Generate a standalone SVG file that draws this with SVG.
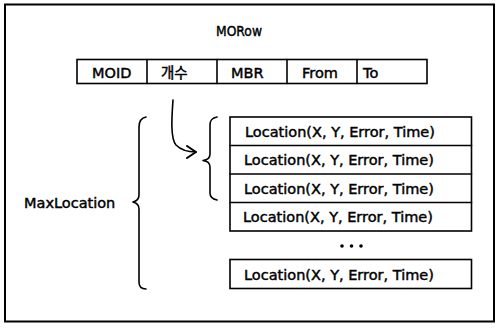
<svg xmlns="http://www.w3.org/2000/svg" width="496" height="332" viewBox="0 0 496 332">
<defs>
<style>
.t{font-family:"DejaVu Sans","Noto Sans CJK KR",sans-serif;font-size:14.5px;fill:#000;stroke:#000;stroke-width:0.45}
.box{fill:#fff;stroke:#000;stroke-width:1.6}
.ln{fill:none;stroke:#000;stroke-width:1.6;stroke-linecap:round;stroke-linejoin:round}
</style>
<marker id="arr" markerWidth="12" markerHeight="14" refX="10" refY="7" orient="auto" markerUnits="userSpaceOnUse">
<polyline points="1,1 10,7 1,13" fill="none" stroke="#000" stroke-width="2" stroke-linejoin="round" stroke-linecap="round"/>
</marker>
</defs>
<rect width="496" height="332" fill="#fff"/>
<rect id="frame" x="5" y="4.5" width="489" height="317" fill="none" stroke="#000" stroke-width="2"/>
<g id="title"><text class="t" x="216" y="36" textLength="46" lengthAdjust="spacingAndGlyphs">MORow</text></g>
<g id="morow">
<rect class="box" x="77" y="59.5" width="350" height="24"/>
<line class="ln" x1="147" y1="59.5" x2="147" y2="83.5"/>
<line class="ln" x1="217" y1="59.5" x2="217" y2="83.5"/>
<line class="ln" x1="287" y1="59.5" x2="287" y2="83.5"/>
<line class="ln" x1="357" y1="59.5" x2="357" y2="83.5"/>
<text class="t" x="92" y="78">MOID</text>
<text class="t" x="161" y="78">개수</text>
<text class="t" x="231" y="78">MBR</text>
<text class="t" x="302" y="78">From</text>
<text class="t" x="363" y="78">To</text>
</g>
<g id="locations">
<rect class="box" x="230" y="117" width="241.5" height="114"/>
<line class="ln" x1="230" y1="145.5" x2="471.5" y2="145.5"/>
<line class="ln" x1="230" y1="174" x2="471.5" y2="174"/>
<line class="ln" x1="230" y1="202.5" x2="471.5" y2="202.5"/>
<text class="t" x="245" y="136.5">Location(X, Y, Error, Time)</text>
<text class="t" x="244" y="165">Location(X, Y, Error, Time)</text>
<text class="t" x="244" y="193.5">Location(X, Y, Error, Time)</text>
<text class="t" x="243" y="222">Location(X, Y, Error, Time)</text>
<circle cx="342" cy="246" r="1.8"/>
<circle cx="351.5" cy="246" r="1.8"/>
<circle cx="361" cy="246" r="1.8"/>
<rect class="box" x="230" y="259.5" width="241.5" height="29"/>
<text class="t" x="244" y="279.5">Location(X, Y, Error, Time)</text>
</g>
<g id="maxlocation">
<text class="t" x="24" y="208">MaxLocation</text>
<path class="ln" d="M146,117 C141,118 139,121 139,127 L139,195 C139,199 137,201 133,202 C137,203 139,205 139,209 L139,282 C139,287 141,289 146,289"/>
</g>
<g id="subset">
<path class="ln" d="M217,117 C212,118 210,120 210,125 L210,154 C210,158 207,160 203,160.5 C207,161 210,163 210,167 L210,193 C210,197 212,199 217,200"/>
</g>
<g id="connectors">
<path class="ln" d="M173,100 C172,115 170,138 176,145 C181,150 188,152 196,152" marker-end="url(#arr)"/>
</g>
</svg>
